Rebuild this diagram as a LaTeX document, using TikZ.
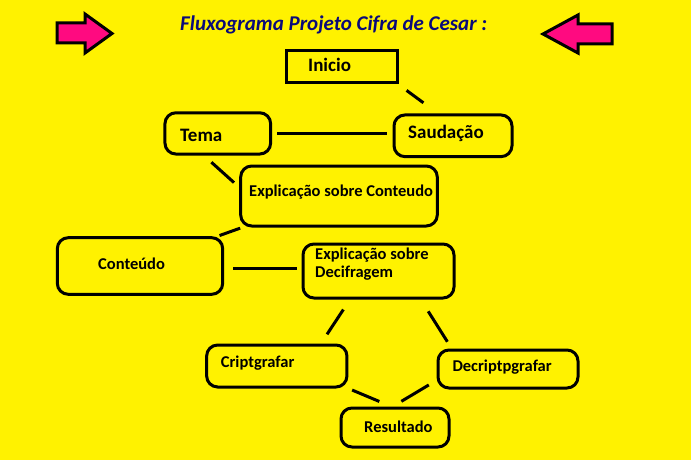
\documentclass[tikz,border=0pt]{standalone}
\usepackage{fontspec}
\setmainfont{Carlito}
\usepackage{xcolor}
\usetikzlibrary{positioning,calc}
\definecolor{paintyellow}{HTML}{FFF200}
\definecolor{paintpink}{HTML}{FF0A80}
\definecolor{titlenavy}{HTML}{0A0A7A}

\begin{document}
\begin{tikzpicture}[x=1pt,y=-1pt,
  box/.style={draw,line width=3pt,rounded corners=11pt,inner sep=0pt},
  sqbox/.style={draw,line width=3pt,inner sep=0pt},
  big/.style={anchor=base west,inner sep=0pt,font=\bfseries\fontsize{19}{20}\selectfont},
  small/.style={anchor=base west,inner sep=0pt,font=\bfseries\fontsize{16.5}{18}\selectfont},
  ln/.style={line width=3pt},
  seta/.style={draw,line width=3pt,fill=paintpink,line join=miter}
]
\fill[paintyellow] (0,0) rectangle (691,460);
\useasboundingbox (0,0) rectangle (691,460);

\node[anchor=base west,inner sep=0pt,text=titlenavy,
      font=\bfseries\itshape\fontsize{21}{24}\selectfont] (titulo) at (180,31)
      {Fluxograma Projeto Cifra de Cesar :};
\draw[seta] (57,23) -- (85,23) -- (85,14) -- (112,33.5) -- (85,53) -- (85,43) -- (57,43) -- cycle;
\draw[seta] (612,24) -- (578,24) -- (578,15) -- (543,34) -- (578,53) -- (578,44) -- (612,44) -- cycle;

\node[sqbox,minimum width=111pt,minimum height=32pt] (inicio) at (341.5,67) {};
\node[box,minimum width=105.7pt,minimum height=41.3pt] (tema) at (217.8,133.4) {};
\node[box,minimum width=118pt,minimum height=41.7pt] (saud) at (453,135.8) {};
\node[box,minimum width=196.6pt,minimum height=60pt] (expcont) at (339,196) {};
\node[box,minimum width=165.4pt,minimum height=56.6pt] (conteudo) at (140,266) {};
\node[box,minimum width=151pt,minimum height=54pt] (expdec) at (378.5,271) {};
\node[box,minimum width=140.3pt,minimum height=42pt] (cript) at (276.8,366) {};
\node[box,minimum width=140pt,minimum height=38pt] (decript) at (508,369) {};
\node[box,minimum width=108pt,minimum height=39pt] (result) at (395,427.5) {};

\node[big] (inicioT) at (308,71.7) {Inicio};
\node[big] (temaT) at (180,141.7) {Tema};
\node[big] (saudT) at (408,139) {Saudação};
\node[small] (expcontT) at (249,196.7) {Explicação sobre Conteudo};
\node[small] (conteudoT) at (98,269.3) {Conteúdo};
\node[small] (expdecT) at (315,259.3) {Explicação sobre};
\node[small] (expdecT2) at (315,277.3) {Decifragem};
\node[small] (criptT) at (220.7,367.3) {Criptgrafar};
\node[small] (decriptT) at (452.3,371.7) {Decriptpgrafar};
\node[small] (resultT) at (364,432.7) {Resultado};

\draw[ln,shorten <=10pt,shorten >=18pt] (inicio.south east) -- (saud.124);
\draw[ln,shorten <=5pt,shorten >=5.5pt] (tema.east) -- (tema.east -| saud.west);
\draw[ln,shorten <=10pt,shorten >=7pt] (tema.238) -- (expcont.175);
\draw[ln,shorten <=2pt,shorten >=2pt] (expcont.198) -- (conteudo.21);
\draw[ln,shorten <=9pt,shorten >=5pt] (conteudo.-2) -- (conteudo.-2 -| expdec.west);
\draw[ln,shorten <=12pt,shorten >=11pt] (expdec.225) -- (cript.27);
\draw[ln,shorten <=14pt,shorten >=8pt] (expdec.-34) -- (decript.160);
\draw[ln,shorten <=4pt,shorten >=13pt] (cript.south east) -- (result.100);
\draw[ln,shorten <=9pt,shorten >=10pt] (decript.189) -- (result.96);
\end{tikzpicture}
\end{document}
